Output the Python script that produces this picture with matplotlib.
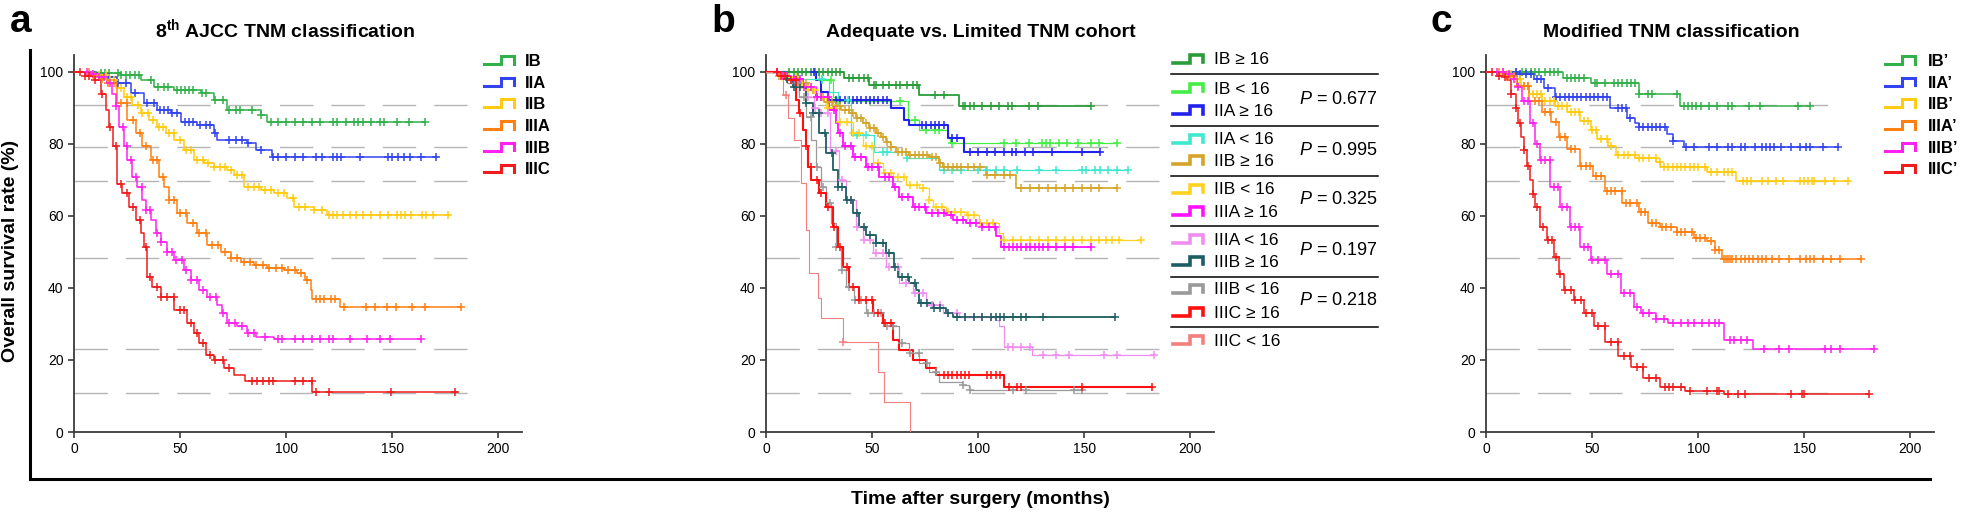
import numpy as np
import matplotlib
matplotlib.use("Agg")
import matplotlib.pyplot as plt
from matplotlib.lines import Line2D

plt.rcParams['font.family'] = ['Liberation Sans', 'DejaVu Sans']
plt.rcParams['mathtext.fontset'] = 'custom'
plt.rcParams['mathtext.rm'] = 'Liberation Sans'
plt.rcParams['mathtext.it'] = 'Liberation Sans:italic'
plt.rcParams['mathtext.bf'] = 'Liberation Sans:bold'

W, H = 1961, 514

# ==========================
# Data: panel a (8th AJCC)
# ==========================
a_labels = ["IB", "IIA", "IIB", "IIIA", "IIIB", "IIIC"]
a_colors = ["#33b04a", "#3344ee", "#ffcc11", "#ff7f11", "#ff22ee", "#ee1c1c"]

a_IB_t = [0, 11, 22, 31.4, 37.7, 47.1, 59.7, 65.9, 72.2, 87.9, 91, 165.5]
a_IB_s = [100, 99.6, 99.2, 97.8, 95.9, 95, 94.1, 92.2, 89.4, 88, 86.2, 86.2]
a_IB_c = [12.7, 14.7, 16.7, 20.6, 22, 24.6, 26.6, 28.6, 30.6, 36.5, 39.5, 42.5, 44.4, 48.4, 50.4,
          52.4, 54.4, 56.3, 60.3, 62.3, 66.3, 70.2, 73.2, 76.2, 78.2, 84, 88, 93, 96, 100, 104,
          108, 112, 116, 122, 124, 128, 132, 134, 136, 140, 144, 146, 152, 158, 165.5]

a_IIA_t = [0, 10, 14.1, 20.4, 26.7, 33, 39.2, 45.5, 50.2, 58.1, 65.9, 67.5, 81.6, 85.6, 93.4, 171]
a_IIA_s = [100, 99.6, 98.5, 96.9, 94.1, 91.3, 89.4, 88.5, 86.2, 85.3, 83, 81.1, 80.2, 78.3, 76.5,
           76.5]
a_IIA_c = [16.7, 20.6, 24.6, 28.6, 34.5, 37.5, 40.5, 42.5, 44.4, 46.4, 48.4, 52.4, 54.4, 56.3,
           59.3, 62.3, 64.3, 66.3, 73.2, 76.2, 79.2, 82.1, 88.1, 94, 96, 100, 104, 108, 114, 117,
           122, 124, 126, 135, 148, 150, 152.6, 155.6, 158.5, 163.5, 170.4]

a_IIB_t = [0, 8, 15.7, 19.6, 23.5, 27.5, 31.4, 35.3, 39.2, 43.2, 47.1, 51.8, 56.5, 61.2, 65.9,
           72.2, 75.4, 80.1, 87.9, 94.2, 100.5, 103.6, 113, 119.3, 176.4]
a_IIB_s = [100, 99.2, 97.8, 95.5, 93.1, 90.8, 88.5, 86.7, 84.8, 83, 81.1, 78.3, 75.6, 74.6, 73.7,
           72.8, 71.4, 68.1, 67.2, 66.3, 64.9, 62.6, 61.7, 60.3, 60.3]
a_IIB_c = [9, 12, 15, 17, 19, 22, 25, 27, 30, 32, 35, 37, 40, 42, 45, 47, 50, 53, 55, 58, 61, 63,
           66, 69, 71, 74, 77, 79, 82, 85, 87, 90, 93, 96, 99, 103, 106, 109, 113, 117, 120, 122,
           124, 127, 130, 133, 136, 140, 144, 148, 152, 154, 156, 159, 164, 166, 169, 176.4]

a_IIIA_t = [0, 8, 12, 15.7, 20.4, 25.1, 29, 32.2, 36.1, 40, 42.4, 44.7, 48.7, 53.4, 58.1, 62.8,
            69.1, 73.8, 78.5, 84.8, 91, 98.9, 105.2, 109.1, 111.5, 112.2, 125.6, 182.3]
a_IIIA_s = [100, 99, 98, 96.9, 91.3, 86.7, 83, 79.3, 75.6, 70.9, 68.1, 64.4, 60.7, 58, 55.2, 51.9,
            50.1, 48.2, 47.3, 46.4, 45.5, 45, 44.1, 42.2, 39.4, 36.9, 34.8, 34.8]
a_IIIA_c = [7, 10, 13, 16, 19, 22, 25, 28, 31, 34, 37, 39, 42, 45, 47, 50, 53, 56, 59, 62, 65, 68,
            71, 74, 77, 80, 83, 86, 89, 92, 95, 98, 101, 104, 107, 110, 114, 116, 118, 121, 123,
            127.4, 137.7, 141.7, 147.6, 151.6, 159.5, 165.5, 182.3]

a_IIIB_t = [0, 8, 12, 15.7, 18, 19.6, 21.2, 23.5, 25.1, 27.5, 29.8, 32.2, 33.8, 36.1, 38.5, 40.8,
            44, 47.1, 51.8, 55, 58.9, 62.8, 67.5, 69.9, 72.2, 76.9, 81.6, 85.6, 94.2, 163.5]
a_IIIB_s = [100, 99.5, 98.5, 96.9, 94, 90.4, 84.8, 79.3, 75.6, 70.9, 68.1, 64.4, 61.7, 58.9, 55.2,
            52.9, 50.1, 47.8, 45, 42.2, 39.4, 37.6, 35.3, 33, 30.2, 29.3, 27.4, 26.5, 25.7, 25.7]
a_IIIB_c = [6, 9, 12, 14, 17, 20, 23, 25, 27, 29, 32, 34, 36, 39, 41, 44, 46, 48, 51, 53, 55, 58,
            61, 64, 67, 70, 73, 76, 79, 82, 85, 90, 96, 98, 104, 108, 112, 116, 120, 122, 130, 138,
            144, 149, 163.5]

a_IIIC_t = [0, 5, 9.4, 12.6, 14.9, 16.5, 18.5, 20.1, 20.4, 22.8, 25.9, 29, 31.4, 33, 34.2, 34.5,
            36.9, 40.8, 47.1, 53.4, 56.5, 58.9, 62, 65.9, 70.6, 75.4, 80.8, 112.2, 180.4]
a_IIIC_s = [100, 99, 97.8, 94, 89.4, 84.8, 79.3, 74.6, 69, 66.3, 62.6, 58.9, 55.2, 51.5, 47.8,
            43.1, 40.4, 37.6, 33.9, 30.2, 27.4, 24.6, 21.4, 20, 17.7, 15.8, 14.2, 11.2, 11.2]
a_IIIC_c = [3, 5, 7, 10, 13, 17, 20, 22, 25, 28, 31, 34, 36, 39, 41, 44, 47, 50, 52, 55, 58, 61,
            64.3, 66.3, 70.2, 73.2, 84.1, 86.1, 89.1, 92.1, 94, 104, 108, 112, 114, 120, 149.6,
            179.4]

# ==========================
# Data: panel b (Adequate vs. Limited)
# ==========================
b_labels = ["IB \u2265 16", "IB < 16", "IIA \u2265 16", "IIA < 16", "IIB \u2265 16", "IIB < 16",
            "IIIA \u2265 16", "IIIA < 16", "IIIB \u2265 16", "IIIB < 16", "IIIC \u2265 16",
            "IIIC < 16"]
b_colors = ["#2a9d3a", "#44ee44", "#2222ee", "#40e8d0", "#d4a52a", "#ffd21f", "#ff11ff",
            "#f08ef0", "#1d5e63", "#9a9a9a", "#ff0f0f", "#f47f7f"]
b_pvals = ["0.677", "0.995", "0.325", "0.197", "0.218"]

b_t = [
    [0, 36.9, 48.7, 72.2, 91, 153],
    [0, 25.1, 31.4, 33, 67, 72.2, 85.6, 86.8, 165.3],
    [0, 23.5, 26, 29, 58.9, 65.1, 67.5, 85.6, 93.4, 157.2],
    [0, 14.3, 29.8, 33.8, 40, 51, 66, 81.6, 170.4],
    [0, 6, 10, 15.7, 19.6, 23.5, 27.5, 31.4, 35.3, 39.2, 42.4, 45.5, 48.7, 51.8, 54.2, 56.5, 58.9,
     61.2, 67.5, 76.9, 81.6, 83.2, 103.6, 117.7, 165.3],
    [0, 8, 15.7, 19.6, 23.5, 28.3, 34.5, 40.8, 45.5, 50.2, 55, 59.7, 65.9, 72.2, 76.9, 78.5, 84.8,
     94.2, 100.5, 109.9, 111.5, 176.6],
    [0, 8, 12, 17.3, 23.5, 29.8, 33, 33.8, 36.1, 40.8, 47.1, 53.4, 59.7, 62.8, 69.1, 75.4, 84.8,
     87.9, 94.2, 102, 108.3, 110.7, 153],
    [0, 8, 14, 18.4, 22.5, 25.1, 30, 34.5, 37.7, 42.4, 45.5, 50.2, 56.5, 62.8, 69.1, 75.4, 83.2,
     91, 108.3, 110, 112.2, 125.6, 182.7],
    [0, 8, 12.6, 18.8, 22, 25.1, 28.3, 31.4, 33.8, 37.7, 40.8, 44, 47.1, 51.8, 56.5, 60.4, 62,
     67.5, 70.6, 72.2, 78.5, 84.8, 87.9, 164.3],
    [0, 10, 15.7, 18.8, 21.2, 23.5, 25.9, 28.3, 30.6, 33, 35.3, 37.7, 41.6, 47.1, 55, 62.8, 67.5,
     72.2, 76.9, 81.6, 92.6, 95.8, 149],
    [0, 6, 9.4, 14.1, 15.7, 17.3, 18.8, 19.6, 21.2, 25.1, 28.3, 31.4, 33.8, 36.1, 39.2, 44, 50.2,
     55, 59.7, 62.8, 69.1, 75.4, 80.1, 112.2, 181.7],
    [0, 8, 10.2, 13.3, 16.5, 18.8, 20.4, 24.3, 25.9, 36.1, 52.6, 55.7, 67.8],
]
b_s = [
    [100, 98.2, 96.4, 93.6, 90.4, 90.4],
    [100, 97.8, 93, 91.8, 86.7, 83.9, 82, 80.2, 80.2],
    [100, 97.8, 94.5, 92.2, 89.9, 86.7, 85.3, 81.6, 77.9, 77.9],
    [100, 98, 94.5, 92.2, 82.5, 77.9, 76, 72.8, 72.8],
    [100, 99, 98, 96.9, 95, 93.1, 91.7, 90.4, 89.5, 88.5, 87.1, 85.7, 84.3, 83, 81.8, 80.6, 79.2,
     77.9, 76.9, 76.5, 74.6, 73.7, 71.4, 67.7, 67.7],
    [100, 98.5, 96.4, 95, 93.1, 89.9, 86.2, 83, 79.3, 74.6, 71.9, 70.9, 68.6, 67.7, 64.4, 62.6,
     61.2, 60.3, 58, 55.2, 53.3, 53.3],
    [100, 99, 98, 95.9, 93.1, 89.4, 85.7, 83, 79.3, 76.5, 73.7, 70.9, 68.1, 65.4, 62.6, 60.7,
     60.3, 58.9, 58, 57, 54.3, 51.5, 51.5],
    [100, 99, 96, 93, 90, 88.5, 78, 70, 64.4, 57, 53.3, 49.6, 45.9, 41.3, 38.5, 35.3, 33, 32,
     31.1, 29.3, 23.7, 21.4, 21.4],
    [100, 98, 95.9, 91.3, 88.5, 83, 77.4, 72.8, 68.1, 64.4, 60.7, 57, 54.7, 52.4, 49.6, 45.9,
     43.1, 41.3, 39.4, 35.7, 34.4, 33, 32, 32],
    [100, 97, 93.1, 87.6, 81.1, 73.7, 68.1, 63.5, 58, 51.5, 45, 40.4, 36.7, 33, 29.3, 24.6, 21.9,
     19.1, 16.8, 14, 13.1, 11.7, 11.7],
    [100, 99, 97.8, 92.2, 88.5, 83.9, 79.3, 73.7, 70, 66.3, 62.6, 57, 51.5, 45.9, 40.4, 36.7, 33,
     30.2, 25.6, 22.8, 20, 17.7, 15.8, 12.6, 12.6],
    [100, 93.6, 87.1, 81.1, 69.1, 56.1, 44.1, 37.1, 31.6, 25.1, 16.8, 8.4, 0],
]
b_c = [
    [11, 13, 15, 17, 19, 21, 23, 25, 27, 29, 31, 33, 35, 39, 41, 44, 46, 48, 51, 52, 55.1, 58.2,
     61.2, 63.3, 66.3, 69.4, 71.4, 79.6, 83.7, 92.9, 94, 96, 98, 102, 106, 110, 114, 116, 124,
     128, 153],
    [26.5, 30.6, 33.7, 49, 63.3, 70, 75.5, 79.6, 81.6, 87.8, 112, 118, 124, 130, 132, 134, 138,
     142, 147, 153, 157, 165.3],
    [22.5, 33, 35, 37, 39, 41, 43, 45, 47, 49, 51, 53, 55, 57, 73.5, 75.5, 77.6, 79.6, 81.6,
     83.7, 87.8, 89.8, 96, 100, 104, 108, 112, 116, 118, 122, 126, 134.7, 149, 157.2],
    [26.5, 38.8, 42.9, 47, 55.1, 57.2, 66.3, 83.7, 87.8, 91.9, 100, 104.1, 108.2, 112.3, 118.4,
     128.6, 136.8, 149, 151, 155.1, 157.2, 161.3, 165.3, 170.4],
    [6, 9, 12, 14, 17, 19, 22, 24, 27, 29, 31, 33, 35, 37, 39, 41, 43, 45, 47, 49, 51, 53, 55, 57,
     59, 62, 64, 66, 68, 70, 72, 74, 76, 78, 80, 82, 84, 86, 88, 90, 92, 95, 98, 101, 104, 108,
     112, 115, 120.4, 124.5, 128.6, 132.7, 136.8, 140.8, 144.9, 149, 153, 157, 165.3],
    [8, 11, 14, 17, 20, 23, 26, 29, 32, 35, 38, 41, 44, 47, 50, 53, 56, 59, 62, 65, 68, 71, 74,
     77, 80, 83, 86, 89, 92, 95, 98, 101, 104, 107, 112.3, 116.4, 120.4, 124.5, 128.6, 132.7,
     136.8, 140.8, 144.9, 149, 153, 157, 160.2, 163.3, 166.4, 176.6],
    [5, 8, 10, 13, 16, 18, 21, 24, 26, 29, 32, 35, 37, 40, 42, 45, 48, 50, 53, 56, 58, 61, 64, 67,
     70, 72, 75, 78, 81, 84, 87, 90, 93, 96, 99, 102, 105, 108, 112.3, 114.3, 116.4, 118.4,
     120.4, 122.5, 124.5, 126.6, 128.6, 130.6, 132.7, 136.8, 140.8, 144.9, 153],
    [20, 23, 26, 29, 33, 36, 40, 43, 46, 49, 52, 55, 58, 62, 66, 70, 74, 78, 82, 86, 90, 93.9,
     98, 102, 106, 114, 116.4, 120.4, 124.5, 130.6, 136.8, 142.9, 159.2, 165.3, 182.7],
    [10, 13, 16, 19, 22, 25, 28, 31, 34, 36, 38, 40, 43, 46, 49, 52, 55, 58, 61, 64, 67, 70, 73,
     76, 79, 82, 86, 90, 94, 98, 102, 106, 108.2, 110.2, 112.3, 116.4, 120.4, 122.5, 130.6,
     164.3],
    [15, 18, 21, 24, 27, 30, 33, 36, 39, 42, 45, 48, 51, 54, 57, 60, 64, 68, 72, 76, 80, 92.9, 96,
     116.4, 122.5, 145, 149],
    [5, 7, 9, 12, 14, 16, 19, 21, 24, 26, 29, 32, 35, 38, 41, 44, 47, 50, 53, 56, 59, 83.7, 85.7,
     87.8, 89.8, 91.8, 93.9, 95.9, 104, 106.1, 108.2, 110.2, 114.3, 118.4, 120.4, 149, 181.7],
    [9.4, 36.1],
]
b_lw = [1.3, 0.9, 1.5, 0.9, 1.2, 0.9, 1.3, 0.9, 1.3, 0.9, 1.5, 0.8]

# ==========================
# Data: panel c (Modified TNM)
# ==========================
c_labels = ["IB\u2019", "IIA\u2019", "IIB\u2019", "IIIA\u2019", "IIIB\u2019", "IIIC\u2019"]
c_colors = a_colors

c_t = [
    [0, 36.4, 49.4, 72.2, 91.5, 152.8],
    [0, 14.5, 22.5, 27.5, 32.4, 58.3, 66.3, 70.2, 72.2, 85.2, 88.2, 93.1, 165.8],
    [0, 6.6, 12.5, 16.5, 20.5, 26.5, 32.4, 38.4, 44.4, 49.4, 52.3, 57.3, 61.3, 70.2, 80.2, 82.2,
     104, 118, 170.7],
    [0, 8.6, 14.5, 20.5, 26.5, 30.4, 34.4, 38.4, 44.4, 50.3, 56.3, 64.3, 72.2, 76.2, 82.2, 90,
     98, 104, 108, 111, 176.7],
    [0, 9, 12, 14.5, 17, 20.9, 23, 25.6, 30.3, 35, 39.8, 44.5, 49.3, 57.2, 63.5, 69.8, 73, 80,
     85.6, 112, 126, 182.7],
    [0, 5, 8, 9.8, 12, 14, 15.3, 16.5, 17.7, 19.3, 20.9, 22, 23.2, 25.6, 28.8, 31.9, 34.3, 36.6,
     41.4, 46.1, 50.9, 56.3, 62.3, 68.3, 74.2, 82.2, 94, 112, 180.7],
]
c_s = [
    [100, 98.4, 96.8, 94, 90.5, 90.5],
    [100, 99.4, 98, 95.6, 92.9, 90, 87.3, 85.9, 84.7, 82.7, 80.8, 79.2, 79.2],
    [100, 99.5, 98, 96, 94, 92, 90.5, 89, 86.5, 84, 81.5, 79.5, 77, 76, 75, 73.5, 72.2, 69.7,
     69.7],
    [100, 99, 96, 92, 89, 86, 82, 78.5, 74, 71, 67, 63.5, 61, 58, 57, 55.5, 54, 53, 50.5, 48, 48],
    [100, 99.5, 98, 95.9, 92, 85.7, 80, 75.6, 68.1, 62.6, 57, 51.5, 47.8, 44, 38.5, 34.8, 33,
     31.5, 30.2, 25.6, 23, 23],
    [100, 99, 98.5, 97.8, 94, 90, 85.7, 82, 78.3, 74, 70, 66, 62.6, 57, 53.3, 48.7, 44, 39.4,
     36.7, 33, 29.3, 25, 21, 18, 15, 12.5, 11.5, 10.5, 10.5],
]
c_c = [
    [14, 17, 19, 21, 23, 25, 28, 30, 32, 34, 38, 40, 42, 44, 46, 51.3, 52.3, 56.3, 60.3, 62.3,
     64.3, 66.3, 68.3, 70.2, 72.2, 76.2, 78.2, 90.1, 93.1, 95.1, 97.1, 99.1, 101.1, 105.1,
     109.1, 114, 116, 124, 129, 146.9, 152.8],
    [14, 16, 19, 21, 24, 26, 29, 33, 35, 37, 39, 41, 43, 45, 47, 49, 51, 53, 55, 57, 62, 64, 66,
     68, 72.2, 74.2, 76.2, 78.2, 80.2, 82.2, 84.2, 88.2, 94.1, 98.1, 105.1, 109.1, 114, 116, 120,
     122, 127, 130, 132, 134, 135.9, 138.9, 143.9, 147.9, 150.8, 152.8, 158.8, 165.8],
    [8, 10, 12, 14, 16, 18, 20, 22, 24, 26, 28, 30, 32, 34, 36, 38, 40, 42, 44, 46, 48, 50, 52,
     54, 57, 59, 62, 65, 67, 70, 72, 74, 77, 80, 82, 84, 86, 88, 90, 92, 94, 96, 98, 100, 103,
     106, 109, 112, 114, 116, 121, 123, 125, 129.9, 132.9, 136.9, 139.9, 147.9, 149.9, 151.8,
     153.8, 154.8, 159.8, 163.8, 170.7],
    [6, 8, 11, 13, 15, 18, 20, 23, 25, 28, 30, 33, 35, 37, 40, 42, 45, 47, 49, 52, 54, 57, 59, 61,
     64, 66, 68, 71, 73, 75, 78, 80, 83, 85, 87, 90, 92, 94, 97, 99, 101, 103, 106, 108, 110,
     112, 113, 114, 115, 116, 118, 120, 122, 124, 126, 128, 130, 132, 134.9, 137.9, 142.9,
     147.9, 150.8, 152.8, 154.8, 158.8, 162.8, 166.8, 176.7],
    [5, 8, 11, 13, 15, 18, 20, 22, 24, 26, 28, 30, 32, 34, 36, 38, 40, 42, 44, 46, 48, 50, 53, 56,
     59, 62, 65, 68, 71, 74, 77, 80, 84, 88, 92, 95, 98, 102, 105, 108, 110, 115, 117, 120, 123,
     130.9, 137.9, 142.9, 159.8, 162.8, 166.8, 182.7],
    [3, 6, 9, 12, 14, 16, 18, 20, 22, 24, 27, 29, 31, 33, 35, 37, 40, 42, 45, 47, 50, 53, 56, 59,
     62, 65, 68, 71, 74, 77, 80, 84.2, 86.2, 88.2, 92.1, 96.1, 104.1, 109.1, 110, 114, 119, 122,
     143.9, 148.9, 149.9, 180.7],
]

grid_levels = [90.7, 79.1, 69.6, 48.2, 23.0, 10.7]


def km(ax, t, s, cens, color, lw=1.1):
    t = np.asarray(t, float)
    s = np.asarray(s, float)
    ax.step(t, s, where='post', color=color, lw=lw, zorder=3)
    cens = np.asarray(cens, float)
    idx = np.searchsorted(t, cens, side='right') - 1
    ax.plot(cens, s[idx], '+', color=color, ms=5.5, mew=1.1, zorder=4)


def setup(ax, grid_end):
    ax.hlines(grid_levels, 0, grid_end, colors='#b5b5b5', lw=1.0,
              linestyles=(0, (24, 13)), zorder=1)
    ax.set_xlim(0, 211)
    ax.set_ylim(0, 104.7)
    ax.set_xticks([0, 50, 100, 150, 200])
    ax.set_yticks([0, 20, 40, 60, 80, 100])
    for side in ['top', 'right']:
        ax.spines[side].set_visible(False)
    for side in ['left', 'bottom']:
        ax.spines[side].set_color('#3a3a3a')
        ax.spines[side].set_linewidth(1.3)
    ax.tick_params(length=4.5, width=1.2, color='#3a3a3a', labelsize=10, pad=3)
    ax.patch.set_alpha(0)


def handle(fig, x0, yc, color, lw=2.2):
    xs = [x0, x0 + 16.5, x0 + 16.5, x0 + 30, x0 + 30]
    ys = [yc + 2.5, yc + 2.5, yc - 5.5, yc - 5.5, yc + 2]
    fx = [x / W for x in xs]
    fy = [1 - y / H for y in ys]
    fig.add_artist(Line2D(fx, fy, color=color, lw=lw, transform=fig.transFigure,
                          solid_joinstyle='miter'))


fig = plt.figure(figsize=(W / 100, H / 100), dpi=100)

ax_w = 447.7 / W
ax_b = 1 - 432 / H
ax_h = (432 - 55) / H
axA = fig.add_axes([74 / W, ax_b, ax_w, ax_h])
axB = fig.add_axes([766 / W, ax_b, ax_w, ax_h])
axC = fig.add_axes([1486 / W, ax_b, ax_w, ax_h])

setup(axA, 191)
setup(axB, 189)
setup(axC, 169)

a_t = [a_IB_t, a_IIA_t, a_IIB_t, a_IIIA_t, a_IIIB_t, a_IIIC_t]
a_s = [a_IB_s, a_IIA_s, a_IIB_s, a_IIIA_s, a_IIIB_s, a_IIIC_s]
a_c = [a_IB_c, a_IIA_c, a_IIB_c, a_IIIA_c, a_IIIB_c, a_IIIC_c]
for t, s, c, col in zip(a_t, a_s, a_c, a_colors):
    km(axA, t, s, c, col)

for t, s, c, col, lw in zip(b_t, b_s, b_c, b_colors, b_lw):
    km(axB, t, s, c, col, lw=lw)

for t, s, c, col in zip(c_t, c_s, c_c, c_colors):
    km(axC, t, s, c, col)

# ==========================
# Legends (drawn by hand)
# ==========================
rows_ac = [61.5, 83.2, 104.9, 126.6, 148.3, 170]
for lab, col, y in zip(a_labels, a_colors, rows_ac):
    handle(fig, 484, y, col)
    fig.text(525 / W, 1 - y / H, lab, fontsize=12, fontweight='bold', va='center', ha='left')
for lab, col, y in zip(c_labels, c_colors, rows_ac):
    handle(fig, 1885, y, col)
    fig.text(1928 / W, 1 - y / H, lab, fontsize=12, fontweight='bold', va='center', ha='left')

rows_b = [60, 89.3, 111.7, 140, 161.7, 190, 212.7, 240.7, 262.3, 290, 313.3, 341]
for lab, col, y in zip(b_labels, b_colors, rows_b):
    handle(fig, 1173, y, col, lw=2.6)
    fig.text(1214 / W, 1 - y / H, lab, fontsize=12.5, va='center', ha='left')

sep_y = [74.3, 125.7, 176, 225.7, 276.7, 326.7]
for y in sep_y:
    fig.add_artist(Line2D([1171 / W, 1378 / W], [1 - y / H] * 2, color='black', lw=1.1,
                          transform=fig.transFigure))
p_rows = [99.3, 150, 200, 250.7, 300.7]
for p, y in zip(b_pvals, p_rows):
    fig.text(1378 / W, 1 - y / H, r'$P$ = ' + p, fontsize=13, va='center', ha='right')

# ==========================
# Frame, titles, labels
# ==========================
fig.add_artist(Line2D([30 / W, 30 / W, 1930 / W], [1 - 50 / H, 1 - 479 / H, 1 - 479 / H],
                      color='black', lw=2.2, transform=fig.transFigure,
                      solid_joinstyle='miter'))

fig.text(285.5 / W, 1 - 37 / H, r'8$^{\mathbf{th}}$ AJCC TNM classification',
         fontsize=14, fontweight='bold', ha='center', va='baseline')
fig.text(981 / W, 1 - 37 / H, 'Adequate vs. Limited TNM cohort',
         fontsize=14, fontweight='bold', ha='center', va='baseline')
fig.text(1671 / W, 1 - 37 / H, 'Modified TNM classification',
         fontsize=14, fontweight='bold', ha='center', va='baseline')

for letter, x in [('a', 10), ('b', 711), ('c', 1431)]:
    fig.text(x / W, 1 - 32 / H, letter, fontsize=28, fontweight='bold', ha='left',
             va='baseline')

fig.text(980 / W, 1 - 500 / H, 'Time after surgery (months)', fontsize=14,
         fontweight='bold', ha='center', va='center')
fig.text(11 / W, 1 - 251 / H, 'Overall survival rate (%)', fontsize=14, fontweight='bold',
         ha='center', va='center', rotation=90)

fig.savefig('out.png', dpi=100)
